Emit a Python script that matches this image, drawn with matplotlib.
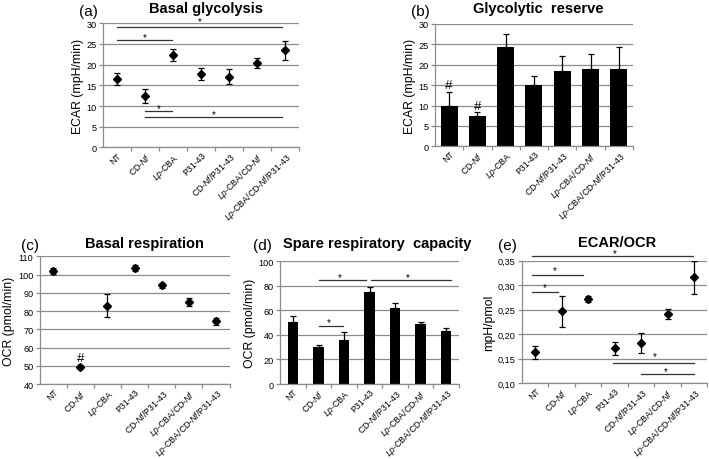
import matplotlib.pyplot as plt
import numpy as np

plt.rcParams['font.family'] = ['Liberation Sans', 'DejaVu Sans']
plt.rcParams['mathtext.fontset'] = 'custom'
plt.rcParams['mathtext.rm'] = 'Liberation Sans'
plt.rcParams['mathtext.it'] = 'Liberation Sans:italic'
plt.rcParams['mathtext.bf'] = 'Liberation Sans:bold'

categories = ['NT', r'CD-$\mathit{Nf}$', r'$\mathit{Lp}$-CBA', 'P31-43',
              r'CD-$\mathit{Nf}$/P31-43', r'$\mathit{Lp}$-CBA/CD-$\mathit{Nf}$',
              r'$\mathit{Lp}$-CBA/CD-$\mathit{Nf}$/P31-43']

# (a) basal glycolysis, ECAR mpH/min
basal_glyc = [16.6, 12.4, 22.3, 17.8, 17.1, 20.4, 23.5]
basal_glyc_err = [1.4, 1.65, 1.45, 1.4, 1.85, 1.25, 2.25]
# (b) glycolytic reserve
glyc_res = [9.8, 7.5, 24.45, 15.05, 18.5, 19.05, 19.05]
glyc_res_err = [3.45, 0.8, 3.15, 2.15, 3.6, 3.55, 5.25]
# (c) basal respiration, OCR pmol/min
basal_resp = [101.8, 49.3, 83.0, 103.6, 94.1, 85.0, 74.4]
basal_resp_err = [1.6, 1.3, 6.2, 1.5, 1.4, 2.2, 1.8]
# (d) spare respiratory capacity
spare = [50.3, 29.9, 35.9, 75.3, 62.0, 48.9, 43.5]
spare_err = [4.9, 1.9, 6.2, 3.5, 3.8, 1.9, 2.2]
# (e) ECAR/OCR
ratio = [0.163, 0.247, 0.272, 0.171, 0.182, 0.241, 0.316]
ratio_err = [0.0125, 0.032, 0.007, 0.0135, 0.021, 0.010, 0.0335]

# significance bars: (x start, x end, y, star x, star y)
sig_a = [(0.0, 5.9, 29.0, 2.95, 30.5), (0.0, 1.97, 25.85, 0.98, 26.7),
         (1.0, 1.97, 8.86, 1.48, 9.6), (1.0, 5.9, 7.4, 3.45, 8.1)]
sig_d = [(1.0, 2.86, 84.5, 1.84, 87.5), (3.06, 6.2, 84.5, 4.5, 87.5),
         (1.0, 1.96, 47.0, 1.41, 50.3)]
sig_e = [(-0.11, 5.96, 0.359, 3.0, 0.366), (-0.11, 1.81, 0.320, 0.75, 0.330),
         (-0.11, 0.87, 0.287, 0.35, 0.296), (2.93, 6.0, 0.141, 4.53, 0.155),
         (4.0, 6.0, 0.119, 4.94, 0.125)]

gray = '#8c8c8c'
x = np.arange(len(categories))

fig = plt.figure(figsize=(7.09, 4.6), dpi=100)
ax_a = fig.add_axes([0.1453, 0.6772, 0.2764, 0.2700])
ax_b = fig.add_axes([0.6135, 0.6798, 0.2793, 0.2659])
ax_c = fig.add_axes([0.0560, 0.1630, 0.2677, 0.2776])
ax_d = fig.add_axes([0.3953, 0.1630, 0.2518, 0.2667])
ax_e = fig.add_axes([0.7362, 0.1646, 0.2616, 0.2665])


def style(ax, ylim, yticks, ylabel):
    ax.set_xlim(-0.5, 6.5)
    ax.set_ylim(*ylim)
    ax.set_yticks(yticks)
    ax.grid(axis='y', color=gray, lw=0.9)
    ax.set_axisbelow(True)
    for s in ['top', 'right']:
        ax.spines[s].set_visible(False)
    for s in ['left', 'bottom']:
        ax.spines[s].set_color(gray)
        ax.spines[s].set_linewidth(0.9)
    ax.set_xticks(x)
    ax.set_xticklabels(categories, rotation=45, ha='right', va='top',
                       rotation_mode='anchor', fontsize=6.3)
    ax.set_xticks(np.arange(0.5, 7, 1), minor=True)
    ax.tick_params(axis='x', which='major', length=0, pad=2)
    ax.tick_params(axis='x', which='minor', length=3, color=gray, width=0.9)
    ax.tick_params(axis='y', length=3, color=gray, width=0.9, labelsize=6.6, pad=1.5)
    ax.set_ylabel(ylabel, fontsize=8.8, labelpad=2)


def sig(ax, bars):
    for x0, x1, y, xs, ys in bars:
        ax.plot([x0, x1], [y, y], color='#333333', lw=0.9, clip_on=False)
        ax.text(xs, ys, '*', ha='center', va='center', fontsize=7, clip_on=False)


# (a)
ax_a.errorbar(x, basal_glyc, yerr=basal_glyc_err, fmt='D', color='black',
              ms=4.5, capsize=2.2, elinewidth=0.9, capthick=0.9)
style(ax_a, (0, 30), np.arange(0, 31, 5), 'ECAR (mpH/min)')
sig(ax_a, sig_a)

# (b)
ax_b.bar(x, glyc_res, width=0.6, color='black')
ax_b.errorbar(x, glyc_res, yerr=[np.zeros(7), glyc_res_err], fmt='none',
              ecolor='black', capsize=2.2, elinewidth=0.9, capthick=0.9)
style(ax_b, (0, 30), np.arange(0, 31, 5), 'ECAR (mpH/min)')
for i in [0, 1]:
    ax_b.text(x[i], glyc_res[i] + glyc_res_err[i] + 0.2, '#', ha='center',
              va='bottom', fontsize=9.5)

# (c)
ax_c.errorbar(x, basal_resp, yerr=basal_resp_err, fmt='D', color='black',
              ms=4.5, capsize=2.2, elinewidth=0.9, capthick=0.9)
style(ax_c, (40, 110), np.arange(40, 111, 10), 'OCR (pmol/min)')
ax_c.text(x[1], basal_resp[1] + basal_resp_err[1] + 0.4, '#', ha='center',
          va='bottom', fontsize=9.5)

# (d)
ax_d.bar(x, spare, width=0.4, color='black')
ax_d.errorbar(x, spare, yerr=[np.zeros(7), spare_err], fmt='none',
              ecolor='black', capsize=2.2, elinewidth=0.9, capthick=0.9)
style(ax_d, (0, 100), np.arange(0, 101, 20), 'OCR (pmol/min)')
sig(ax_d, sig_d)

# (e)
ax_e.errorbar(x, ratio, yerr=ratio_err, fmt='D', color='black',
              ms=4.5, capsize=2.2, elinewidth=0.9, capthick=0.9)
e_ticks = np.arange(0.10, 0.351, 0.05)
style(ax_e, (0.10, 0.35), e_ticks, 'mpH/pmol')
ax_e.set_yticklabels([('%.2f' % t).replace('.', ',') for t in e_ticks])
sig(ax_e, sig_e)

# titles and panel letters (pixel positions / figure size)
W, H = 709, 460
panels = [('(a)', 79, 16, 'Basal glycolysis', 206, 13, 'center'),
          ('(b)', 411, 16, 'Glycolytic  reserve', 538, 13, 'center'),
          ('(c)', 21, 250, 'Basal respiration', 144, 248, 'center'),
          ('(d)', 253, 250, 'Spare respiratory  capacity', 283, 248, 'left'),
          ('(e)', 498, 250, 'ECAR/OCR', 617, 247, 'center')]
for lab, lx, ly, title, tx, ty, tha in panels:
    fig.text(lx / W, 1 - ly / H, lab, fontsize=11, ha='left', va='baseline')
    fig.text(tx / W, 1 - ty / H, title, fontsize=10.5, fontweight='bold',
             ha=tha, va='baseline')

fig.savefig('out.png', dpi=100)
